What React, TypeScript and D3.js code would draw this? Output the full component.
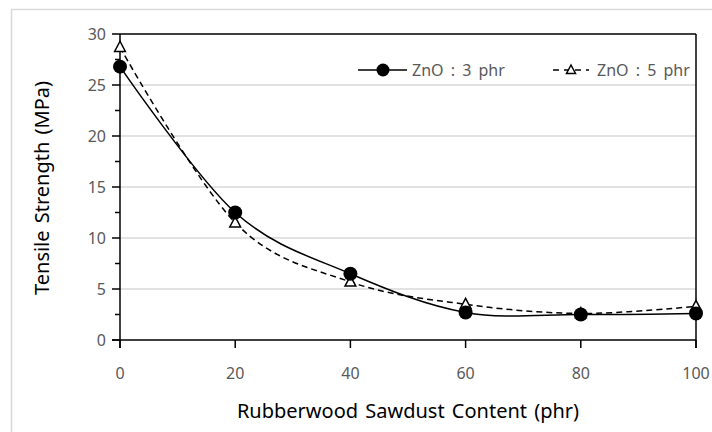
import React from "react";
import * as d3 from "d3";

const categories = [0, 20, 40, 60, 80, 100];
const zno3 = [26.8, 12.5, 6.5, 2.7, 2.5, 2.6];
const zno5 = [28.7, 11.5, 5.7, 3.5, 2.6, 3.3];
const yTicks = [0, 5, 10, 15, 20, 25, 30];
const xTicks = [0, 20, 40, 60, 80, 100];
const seriesNames = ["ZnO : 3 phr", "ZnO : 5 phr"];
const xTitle = "Rubberwood Sawdust Content (phr)";
const yTitle = "Tensile Strength (MPa)";

const W = 712, H = 432;
const L = 120, R = 696, T = 34, B = 340;
const FONT = "'Noto Sans', sans-serif";
const TXT = "#595959";

export default function App() {
  const x = d3.scaleLinear().domain([0, 100]).range([L, R]);
  const y = d3.scaleLinear().domain([0, 30]).range([B, T]);
  const line = d3
    .line<number>()
    .x((_, i) => x(categories[i]))
    .y((d) => y(d))
    .curve(d3.curveCardinal.tension(0));
  const minor = d3.range(2.5, 30, 5);
  const tri = (cx: number, cy: number, s = 6) =>
    `M${cx},${cy - s}L${cx + s * 0.9},${cy + s * 0.7}L${cx - s * 0.9},${cy + s * 0.7}Z`;
  const LY = 70;
  return (
    <svg width={W} height={H} style={{ position: "absolute", left: 0, top: 0, background: "#fff" }}>
      <rect x={11.5} y={9.5} width={W} height={H} fill="#fff" stroke="#d9d9d9" strokeWidth={1.5} />
      {yTicks.slice(1, -1).map((t) => (
        <line key={t} x1={L} x2={R} y1={y(t)} y2={y(t)} stroke="#d9d9d9" strokeWidth={1.5} />
      ))}
      {/* frame */}
      <line x1={L} x2={R} y1={T} y2={T} stroke="#000" strokeWidth={1.5} />
      <line x1={R} x2={R} y1={T} y2={B + 8} stroke="#000" strokeWidth={1.5} />
      <line x1={L} x2={L} y1={T} y2={B + 8} stroke="#000" strokeWidth={1.5} />
      <line x1={L - 8} x2={R} y1={B} y2={B} stroke="#000" strokeWidth={1.5} />
      {yTicks.map((t) => (
        <line key={"yt" + t} x1={L - 8} x2={L} y1={y(t)} y2={y(t)} stroke="#000" strokeWidth={1.5} />
      ))}
      {minor.map((t) => (
        <line key={"ym" + t} x1={L - 5} x2={L} y1={y(t)} y2={y(t)} stroke="#000" strokeWidth={1.5} />
      ))}
      {xTicks.map((t) => (
        <line key={"xt" + t} x1={x(t)} x2={x(t)} y1={B} y2={B + 8} stroke="#000" strokeWidth={1.5} />
      ))}
      {yTicks.map((t) => (
        <text key={"yl" + t} x={L - 14} y={y(t)} dy="0.35em" textAnchor="end" fontFamily={FONT} fontSize={16} fill={TXT}>
          {t}
        </text>
      ))}
      {xTicks.map((t) => (
        <text key={"xl" + t} x={x(t)} y={379} textAnchor="middle" fontFamily={FONT} fontSize={16} fill={TXT}>
          {t}
        </text>
      ))}
      <text x={408} y={418} textAnchor="middle" fontFamily={FONT} fontSize={20} wordSpacing={2} fill="#000">
        {xTitle}
      </text>
      <text transform={`translate(49,188) rotate(-90)`} textAnchor="middle" fontFamily={FONT} fontSize={20} wordSpacing={2} fill="#000">
        {yTitle}
      </text>
      <path d={line(zno5) || ""} fill="none" stroke="#000" strokeWidth={1.5} strokeDasharray="6,4" />
      <path d={line(zno3) || ""} fill="none" stroke="#000" strokeWidth={1.5} />
      {zno5.map((v, i) => (
        <path key={"t" + i} d={tri(x(categories[i]), y(v))} fill="#fff" stroke="#000" strokeWidth={1.5} />
      ))}
      {zno3.map((v, i) => (
        <circle key={"c" + i} cx={x(categories[i])} cy={y(v)} r={7} fill="#000" />
      ))}
      {/* legend */}
      <g>
        <line x1={358} x2={407} y1={LY} y2={LY} stroke="#000" strokeWidth={1.5} />
        <circle cx={383} cy={LY} r={6.5} fill="#000" />
        <text x={412} y={LY} dy="0.35em" fontFamily={FONT} fontSize={16} wordSpacing={3} fill={TXT}>
          {seriesNames[0]}
        </text>
        <line x1={553} x2={589} y1={LY} y2={LY} stroke="#000" strokeWidth={1.5} strokeDasharray="6,5" />
        <path d={tri(571, LY, 5)} fill="#fff" stroke="#000" strokeWidth={1.5} />
        <text x={597} y={LY} dy="0.35em" fontFamily={FONT} fontSize={16} wordSpacing={3} fill={TXT}>
          {seriesNames[1]}
        </text>
      </g>
    </svg>
  );
}
